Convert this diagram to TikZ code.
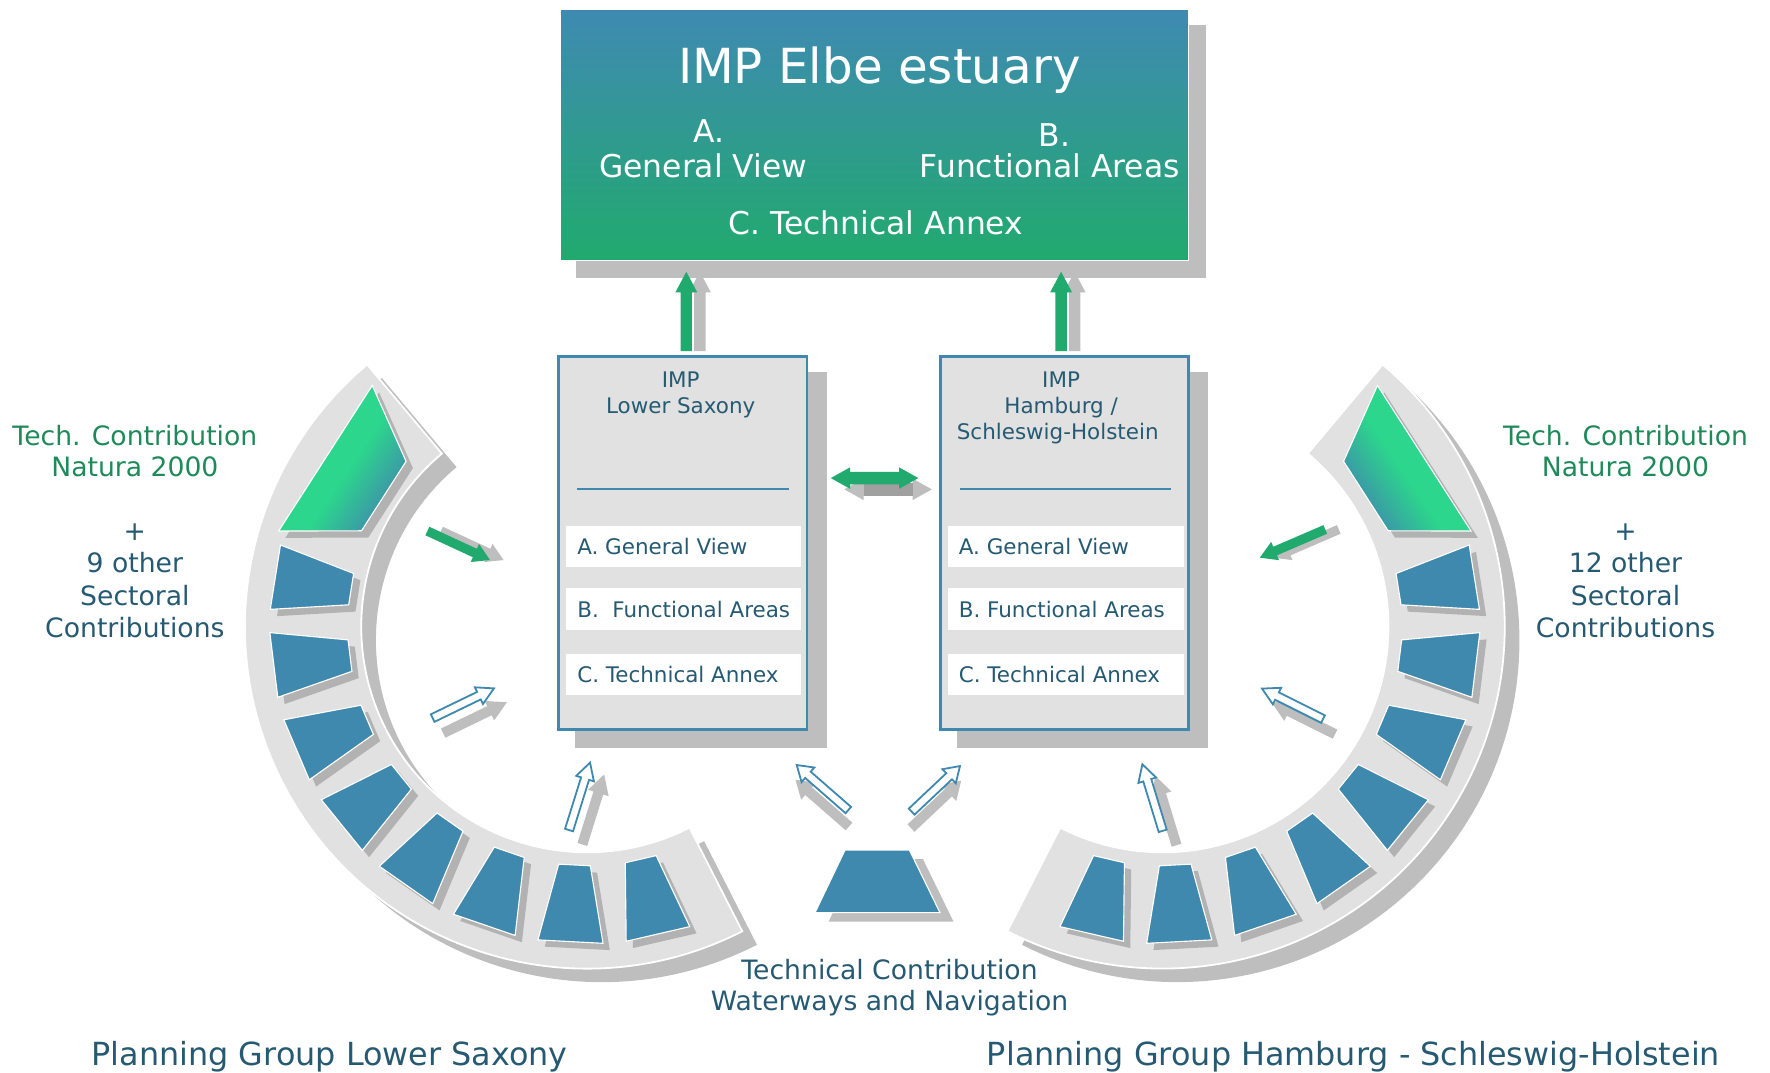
\documentclass[tikz,border=0pt]{standalone}
\usepackage{fontspec}
\setmainfont{DejaVu Sans}
\usetikzlibrary{calc,backgrounds}
\definecolor{cblue}{RGB}{63,137,174}
\definecolor{ctopblue}{RGB}{63,138,178}
\definecolor{cgreen}{RGB}{33,170,110}
\definecolor{cbright}{RGB}{44,214,140}
\definecolor{ctext}{RGB}{38,90,114}
\definecolor{cgtext}{RGB}{30,138,90}
\definecolor{clight}{RGB}{225,225,225}
\definecolor{cshadow}{RGB}{190,190,190}
\definecolor{csegsh}{RGB}{178,178,178}
\definecolor{cdark}{RGB}{160,160,160}
\pgfdeclareverticalshading{segshade}{100bp}{color(0bp)=(cblue); color(24bp)=(cblue); color(46bp)=(cbright); color(100bp)=(cbright)}

\newcommand\fontTitle{\fontsize{21.4pt}{25pt}\selectfont}
\newcommand\fontSub{\fontsize{13.9pt}{16pt}\selectfont}
\newcommand\fontSmall{\fontsize{9.5pt}{11.5pt}\selectfont}
\newcommand\fontSide{\fontsize{11.8pt}{14.2pt}\selectfont}
\newcommand\fontBottom{\fontsize{14.1pt}{17pt}\selectfont}

% fat arrow polygon: #1 style, #2 tail, #3 tip, #4 half shaft, #5 half head, #6 head length
\newcommand\fatarrow[6]{%
  \coordinate (fa-h) at ($(#3)!#6!(#2)$);
  \path[#1] ($(#2)!#4!90:(#3)$) -- ($(fa-h)!#4!90:(#3)$) -- ($(fa-h)!#5!90:(#3)$) -- (#3)
    -- ($(fa-h)!#5!-90:(#3)$) -- ($(fa-h)!#4!-90:(#3)$) -- ($(#2)!#4!-90:(#3)$) -- cycle;}
% arrow with shadow: #1 shadow style, #2 front style, #3 tail, #4 tip, #5 offset, #6-#8 sizes
\newcommand\shadowarrow[8]{%
  \coordinate (sa-t) at ($(#3)+#5$);
  \coordinate (sa-p) at ($(#4)+#5$);
  \fatarrow{#1}{sa-t}{sa-p}{#6}{#7}{#8}%
  \fatarrow{#2}{#3}{#4}{#6}{#7}{#8}}
% horizontal double arrow: #1 style, #2 left tip, #3 right tip, #4 half shaft, #5 half head
\newcommand\dblarrow[5]{%
  \path[#1] (#2) -- ($(#2)+(17,-#5)$) -- ($(#2)+(17,-#4)$) -- ($(#3)+(-17,-#4)$) -- ($(#3)+(-17,-#5)$)
    -- (#3) -- ($(#3)+(-17,#5)$) -- ($(#3)+(-17,#4)$) -- ($(#2)+(17,#4)$) -- ($(#2)+(17,#5)$) -- cycle;}

\tikzset{
  shadowfill/.style={fill=cshadow},
  oshadow/.style={fill=cshadow, draw=cshadow, line width=0.8pt},
  greenfill/.style={fill=cgreen},
  outlinearrow/.style={fill=white, draw=cblue, line width=0.8pt},
  ringstyle/.style={fill=clight, draw=white, line width=0.8pt},
  segstyle/.style={fill=cblue, draw=white, line width=0.5pt},
  segshadow/.style={fill=csegsh},
  greenseg/.style={shading=segshade, draw=white, line width=0.5pt},
  bigbox/.style={rectangle, inner sep=0pt, draw=white, line width=0.6pt, top color=ctopblue, bottom color=cgreen,
    minimum width=278.5pt, minimum height=111.5pt},
  impbox/.style={rectangle, draw=cblue, line width=1.2pt, fill=clight, minimum width=110pt, minimum height=165pt, inner sep=0pt},
  band/.style={rectangle, fill=white, minimum width=104.5pt, minimum height=18.4pt, inner sep=0pt},
  wtext/.style={anchor=base, inner sep=0pt, text=white},
  btext/.style={anchor=base, inner sep=0pt, text=ctext, font=\fontSmall},
  bandtext/.style={anchor=base west, inner sep=0pt, text=ctext, font=\fontSmall},
  sidetext/.style={anchor=base, inner sep=0pt, text=ctext, font=\fontSide},
  sidegreen/.style={anchor=base, inner sep=0pt, text=cgtext, font=\fontSide},
  bottomtext/.style={anchor=base, inner sep=0pt, text=ctext, font=\fontBottom},
}

\begin{document}
\begin{tikzpicture}[x=0.5pt,y=-0.5pt]
\useasboundingbox (0,0) rectangle (1568,950);

% ================= left ring =================
\begin{scope}[shift={(533,567)}]
  \fill[shadowfill] (63:303) arc[start angle=63,end angle=230,radius=303] -- (230:200) arc[start angle=230,end angle=63,radius=200] -- cycle;
\end{scope}
\begin{scope}[shift={(520,555)}]
  \filldraw[ringstyle] (63:303) arc[start angle=63,end angle=230,radius=303] -- (230:200) arc[start angle=230,end angle=63,radius=200] -- cycle;
\end{scope}
\begin{scope}[shift={(526,561)}]
  \foreach \a in {189,173,...,77}
    \fill[segshadow] ({\a-5.9}:281) -- ({\a+5.9}:281) -- ({\a+3.8}:212) -- ({\a-3.8}:212) -- cycle;
  \fill[segshadow] (228.3:286) -- (222.4:217) -- (203:217) -- (197.2:286) -- cycle;
\end{scope}
\begin{scope}[shift={(520,555)}]
  \foreach \a in {189,173,...,77}
    \filldraw[segstyle] ({\a-5.9}:281) -- ({\a+5.9}:281) -- ({\a+3.8}:212) -- ({\a-3.8}:212) -- cycle;
  \shadedraw[greenseg, shading angle=56]
    (228.3:286) -- (222.4:217) -- (203:217) -- (197.2:286) -- cycle;
\end{scope}

% ================= right ring =================
\begin{scope}[shift={(1043,567)}]
  \fill[shadowfill] (-50:303) arc[start angle=-50,end angle=117,radius=303] -- (117:200) arc[start angle=117,end angle=-50,radius=200] -- cycle;
\end{scope}
\begin{scope}[shift={(1030,555)}]
  \filldraw[ringstyle] (-50:303) arc[start angle=-50,end angle=117,radius=303] -- (117:200) arc[start angle=117,end angle=-50,radius=200] -- cycle;
\end{scope}
\begin{scope}[shift={(1036,561)}]
  \foreach \a in {-9,7,...,103}
    \fill[segshadow] ({\a-5.9}:281) -- ({\a+5.9}:281) -- ({\a+3.8}:212) -- ({\a-3.8}:212) -- cycle;
  \fill[segshadow] (-48.3:286) -- (-42.4:217) -- (-23:217) -- (-17.2:286) -- cycle;
\end{scope}
\begin{scope}[shift={(1030,555)}]
  \foreach \a in {-9,7,...,103}
    \filldraw[segstyle] ({\a-5.9}:281) -- ({\a+5.9}:281) -- ({\a+3.8}:212) -- ({\a-3.8}:212) -- cycle;
  \shadedraw[greenseg, shading angle=-56]
    (-48.3:286) -- (-42.4:217) -- (-23:217) -- (-17.2:286) -- cycle;
\end{scope}

% ================= boxes =================
\node[bigbox] (top) at (774.5,119.5) {};
\node[impbox] (ls) at (605,481) {};
\node[impbox] (hs) at (943,481) {};
\begin{scope}[on background layer]
  \fill[shadowfill] ($(top.south west)+(15,15)$) rectangle ($(top.north east)+(15,15)$);
  \fill[shadowfill] ($(ls.south west)+(16,15)$) rectangle ($(ls.north east)+(16,15)$);
  \fill[shadowfill] ($(hs.south west)+(16,15)$) rectangle ($(hs.north east)+(16,15)$);
\end{scope}

% top box texts
\node[wtext, font=\fontTitle] (ttitle) at (779,74) {IMP Elbe estuary};
\node[wtext, font=\fontSub] (ta1) at (628,126) {A.};
\node[wtext, font=\fontSub] (ta2) at (623,157) {General View};
\node[wtext, font=\fontSub] (tb1) at (934,130) {B.};
\node[wtext, font=\fontSub] (tb2) at (930,157) {Functional Areas};
\node[wtext, font=\fontSub] (tc) at (776,208) {C. Technical Annex};

% left IMP box
\node[btext] (lh1) at (603,343) {IMP};
\node[btext] (lh2) at (603,366) {Lower Saxony};
\draw[cblue, line width=0.75pt] (511,433) -- (699,433);
\node[band] (lbA) at (605.5,484) {};
\node[band] (lbB) at (605.5,539.5) {};
\node[band] (lbC) at (605.5,597.5) {};
\node[bandtext] (ltA) at (511,491) {A. General View};
\node[bandtext] (ltB) at (511,547) {B.\ \ Functional Areas};
\node[bandtext] (ltC) at (511,605) {C. Technical Annex};

% right IMP box
\node[btext] (rh1) at (940,343) {IMP};
\node[btext] (rh2) at (940,366) {Hamburg /};
\node[btext] (rh3) at (937,389) {Schleswig-Holstein};
\draw[cblue, line width=0.75pt] (850,433) -- (1037,433);
\node[band] (rbA) at (944,484) {};
\node[band] (rbB) at (944,539.5) {};
\node[band] (rbC) at (944,597.5) {};
\node[bandtext] (rtA) at (849,491) {A. General View};
\node[bandtext] (rtB) at (849,547) {B. Functional Areas};
\node[bandtext] (rtC) at (849,605) {C. Technical Annex};

% ================= arrows =================
% up arrows
\coordinate (ua-t) at (608,311); \coordinate (ua-p) at (608,240.7);
\shadowarrow{shadowfill}{greenfill}{ua-t}{ua-p}{(12,0)}{2.5pt}{4.85pt}{9.15pt}
\coordinate (ub-t) at (940,311); \coordinate (ub-p) at (940,240.7);
\shadowarrow{shadowfill}{greenfill}{ub-t}{ub-p}{(12,0)}{2.5pt}{4.85pt}{9.15pt}

% double arrow between IMP boxes
\coordinate (da-l) at (736,423.5); \coordinate (da-r) at (813.5,423.5);
\coordinate (da-ls) at (748,433.5); \coordinate (da-rs) at (825.5,433.5);
\dblarrow{fill=cshadow}{da-ls}{da-rs}{5.6}{9.5}
\fill[cdark] ($(da-ls)+(17,-5.6)$) rectangle ($(da-rs)+(-17,5.6)$);
\dblarrow{fill=cgreen}{da-l}{da-r}{5.6}{9.5}

% left ring arrows
\coordinate (lg-t) at (378.6,470.4); \coordinate (lg-p) at (434.1,496.1);
\shadowarrow{shadowfill}{greenfill}{lg-t}{lg-p}{(12,0)}{2.07pt}{4.4pt}{7.4pt}
\coordinate (lo-t) at (383.3,636.1); \coordinate (lo-p) at (437.6,609.8);
\shadowarrow{oshadow}{outlinearrow}{lo-t}{lo-p}{(10,13)}{1.85pt}{4.1pt}{7.4pt}
\coordinate (lu-t) at (504.1,735.3); \coordinate (lu-p) at (522.7,675.6);
\shadowarrow{oshadow}{outlinearrow}{lu-t}{lu-p}{(12,12)}{1.85pt}{4.1pt}{7.4pt}

% right ring arrows
\coordinate (rg-t) at (1174,469); \coordinate (rg-p) at (1116,494);
\shadowarrow{shadowfill}{greenfill}{rg-t}{rg-p}{(12,0)}{2.07pt}{4.4pt}{7.4pt}
\coordinate (ro-t) at (1172,637); \coordinate (ro-p) at (1118,610);
\shadowarrow{oshadow}{outlinearrow}{ro-t}{ro-p}{(10,13)}{1.85pt}{4.1pt}{7.4pt}
\coordinate (ru-t) at (1030,736); \coordinate (ru-p) at (1012,677);
\shadowarrow{oshadow}{outlinearrow}{ru-t}{ru-p}{(12,12)}{1.85pt}{4.1pt}{7.4pt}

% centre contribution
\coordinate (tz1) at (748.6,753); \coordinate (tz2) at (805.6,753);
\coordinate (tz3) at (832.7,808.5); \coordinate (tz4) at (722,808.5);
\fill[shadowfill] ($(tz1)+(12,8)$) -- ($(tz2)+(12,8)$) -- ($(tz3)+(12,8)$) -- ($(tz4)+(12,8)$) -- cycle;
\filldraw[segstyle] (tz1) -- (tz2) -- (tz3) -- (tz4) -- cycle;
\coordinate (cl-t) at (751.5,717.6); \coordinate (cl-p) at (705.8,677.7);
\shadowarrow{oshadow}{outlinearrow}{cl-t}{cl-p}{(0,14)}{1.85pt}{4.3pt}{6.6pt}
\coordinate (cr-t) at (807.6,719); \coordinate (cr-p) at (850.4,678.6);
\shadowarrow{oshadow}{outlinearrow}{cr-t}{cr-p}{(0,14)}{1.85pt}{4.3pt}{6.6pt}

% ================= labels =================
\node[sidegreen] (lsg1) at (119.5,394.5) {Tech. Contribution};
\node[sidegreen] (lsg2) at (119.5,422.5) {Natura 2000};
\node[sidetext] (lst1) at (119.5,478.5) {+};
\node[sidetext] (lst2) at (119.5,507.5) {9 other};
\node[sidetext] (lst3) at (119.5,536) {Sectoral};
\node[sidetext] (lst4) at (119.5,564.5) {Contributions};

\node[sidegreen] (rsg1) at (1440,394.5) {Tech. Contribution};
\node[sidegreen] (rsg2) at (1440,422.5) {Natura 2000};
\node[sidetext] (rst1) at (1440,478.5) {+};
\node[sidetext] (rst2) at (1440,507.5) {12 other};
\node[sidetext] (rst3) at (1440,536) {Sectoral};
\node[sidetext] (rst4) at (1440,564.5) {Contributions};

\node[sidetext] (ct1) at (788,867.5) {Technical Contribution};
\node[sidetext] (ct2) at (788,895.5) {Waterways and Navigation};

\node[bottomtext] (bl) at (292,944) {Planning Group Lower Saxony};
\node[bottomtext] (br) at (1199,944) {Planning Group Hamburg - Schleswig-Holstein};
\end{tikzpicture}
\end{document}
